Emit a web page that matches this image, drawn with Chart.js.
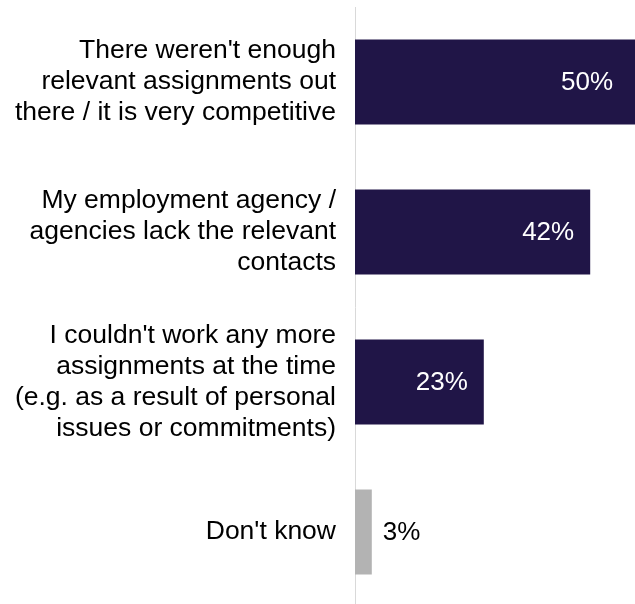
<!DOCTYPE html>
<html>
<head>
<meta charset="utf-8">
<script src="https://cdn.jsdelivr.net/npm/chart.js@4"></script>
<style>
  html, body { margin: 0; padding: 0; background: #ffffff; overflow: hidden; }
  #wrap { position: absolute; left: 0; top: 0; width: 635px; height: 610px; }
</style>
</head>
<body>
<div id="wrap"><canvas id="chart"></canvas></div>
<script>
// Reasons given (multi-line category labels)
const categories = [
  ["There weren't enough", "relevant assignments out", "there / it is very competitive"],
  ["My employment agency /", "agencies lack the relevant", "contacts"],
  ["I couldn't work any more", "assignments at the time", "(e.g. as a result of personal", "issues or commitments)"],
  ["Don't know"]
];
// Share of respondents, %
const values = [50, 42, 23, 3];
const barColors = ["#201547", "#201547", "#201547", "#b3b3b3"];

const FONT = "'Liberation Sans', Arial, sans-serif";

// Percentage labels: inside the bar end in white, or just outside for short bars
const valueLabels = {
  id: 'valueLabels',
  afterDatasetsDraw(chart) {
    const ctx = chart.ctx;
    const meta = chart.getDatasetMeta(0);
    ctx.save();
    ctx.font = '26px ' + FONT;
    ctx.textBaseline = 'middle';
    meta.data.forEach((bar, i) => {
      const v = chart.data.datasets[0].data[i];
      const text = v + '%';
      const w = bar.x - bar.base;
      if (w > 60) {
        ctx.fillStyle = '#ffffff';
        ctx.textAlign = 'right';
        ctx.fillText(text, Math.min(bar.x, chart.chartArea.right - 6) - 16, bar.y + 1);
      } else {
        ctx.fillStyle = '#000000';
        ctx.textAlign = 'left';
        ctx.fillText(text, bar.x + 11, bar.y + 1);
      }
    });
    ctx.restore();
  }
};

new Chart(document.getElementById('chart'), {
  type: 'bar',
  data: {
    labels: categories,
    datasets: [{
      data: values,
      backgroundColor: barColors,
      borderWidth: 0,
      categoryPercentage: 1,
      barPercentage: 0.567
    }]
  },
  options: {
    indexAxis: 'y',
    responsive: true,
    maintainAspectRatio: false,
    animation: false,
    layout: { padding: { top: 7, right: 0, bottom: 3, left: 0 } },
    plugins: { legend: { display: false }, tooltip: { enabled: false } },
    scales: {
      x: {
        display: false,
        min: 0,
        max: 50
      },
      y: {
        grid: { display: false, drawTicks: false },
        border: { display: true, color: '#d9d9d9', width: 1 },
        ticks: {
          color: '#000000',
          padding: 19,
          font: { family: FONT, size: 26.5, lineHeight: 1.17 }
        },
        afterFit(scale) {
          scale.width = 355;
          scale.paddingTop = 0;
          scale.paddingBottom = 0;
        }
      }
    }
  },
  plugins: [valueLabels]
});
</script>
</body>
</html>
